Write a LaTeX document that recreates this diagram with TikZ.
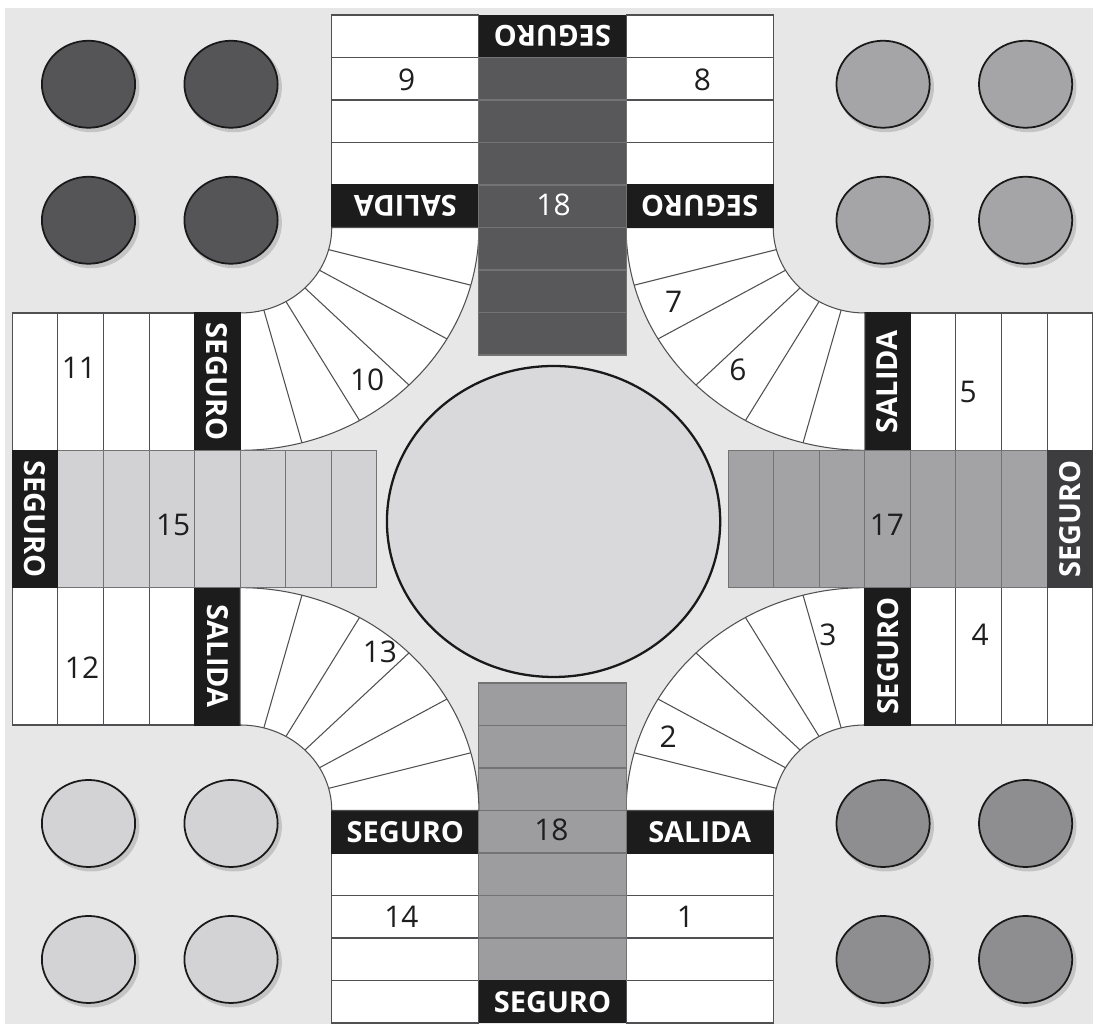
\documentclass[tikz,border=0pt]{standalone}
\usepackage{fontspec}
\setmainfont{Open Sans}

\definecolor{boardbg}{HTML}{E7E7E8}
\definecolor{barblack}{HTML}{1C1C1C}
\definecolor{bardark}{HTML}{3D3D3F}
\definecolor{lanetop}{HTML}{58585A}
\definecolor{laneright}{HTML}{A3A3A5}
\definecolor{lanebot}{HTML}{9D9D9F}
\definecolor{laneleft}{HTML}{D2D2D4}
\definecolor{tokdark}{HTML}{555557}
\definecolor{tokmid}{HTML}{A5A5A7}
\definecolor{toklight}{HTML}{D3D3D5}
\definecolor{tokdeep}{HTML}{8E8E90}
\definecolor{gridline}{HTML}{505052}
\definecolor{centrefill}{HTML}{D9D9DB}
\definecolor{numink}{HTML}{1E1E1E}

\tikzset{
  cell/.style={draw=gridline, line width=0.6pt, fill=white},
  lanecell/.style={draw=black!55, line width=0.6pt},
  bar/.style={draw=barblack, line width=0.6pt},
  bartext/.style={text=white, font=\fontsize{16.5}{16.5}\selectfont\bfseries, inner sep=0pt},
  num/.style={font=\fontsize{17}{17}\selectfont, inner sep=0pt},
  token/.style={draw=black!90, line width=1pt},
}

\begin{document}
\begin{tikzpicture}[x=0.02cm, y=0.02cm, xscale=1.0716]

    \useasboundingbox (-515.6,-505) rectangle (504.4,519);

    % Board background
    \fill[white] (-515.6,-505) rectangle (504.4,519);
    \fill[boardbg] (-510.9,-505) rectangle (504.4,511);

    % Arms: one arm and the fan to its right, turned four times
    \foreach \ang/\lane/\endbar in {0/lanebot/barblack, 90/laneright/bardark, 180/lanetop/barblack, 270/laneleft/barblack} {
      \begin{scope}[rotate=\ang]
        % side columns
        \foreach \i in {0,...,3} {
          \draw[cell] (-206,-504+42.5*\i) rectangle (-68.67,-461.5+42.5*\i);
          \draw[cell] (68.67,-504+42.5*\i) rectangle (206,-461.5+42.5*\i);
        }
        \fill[barblack, bar] (-206,-334) rectangle (-68.67,-291.5);
        \fill[barblack, bar] (68.67,-334) rectangle (206,-291.5);

        % fan between this arm and the next one
        \begin{scope}[shift={(291.5,-291.5)}]
          \draw[cell] (180:222.83) arc[start angle=180, end angle=90, radius=222.83]
            -- (90:85.5) arc[start angle=90, end angle=180, radius=85.5] -- cycle;
          \foreach \t in {105,120,...,165}
            \draw[gridline, line width=0.6pt] (\t:85.5) -- (\t:222.83);
        \end{scope}

        % home lane
        \foreach \i in {1,...,7}
          \draw[lanecell, fill=\lane] (-68.67,-504+42.5*\i) rectangle (68.67,-461.5+42.5*\i);
        \fill[\endbar] (-68.67,-504) rectangle (68.67,-461.5);

        % bar labels
        \node[bartext, rotate=\ang] (segend\ang) at (0,-482.75) {SEGURO};
        \node[bartext, rotate=\ang] (segside\ang) at (-137.33,-312.75) {SEGURO};
        \node[bartext, rotate=\ang] (sal\ang) at (137.33,-312.75) {SALIDA};
      \end{scope}
    }

    % Centre circle
    \draw[fill=centrefill, draw=black!90, line width=1.3pt] (1,-2.5) circle[radius=155.5];

    % Home tokens with a soft shadow
    \foreach \hx/\hy/\col in {-366.5/366.75/tokdark, 375/366.75/tokmid, -366.5/-372.5/toklight, 375/-372.5/tokdeep}
      \foreach \dx in {-66.5,66.5}
        \foreach \dy in {-68,68} {
          \fill[black, opacity=0.15] (\hx+\dx+2.5,\hy+\dy-3) circle[radius=45];
          \draw[token, fill=\col] (\hx+\dx,\hy+\dy) circle[radius=43.5];
        }

    % Square numbers
    \foreach \nx/\ny/\txt/\ink [count=\k] in {124/-398/1/numink, 108/-218/2/numink, 257/-116/3/numink, 399/-116/4/numink, 388/127/5/numink, 173/149/6/numink, 113/217/7/numink, 140/439/8/numink, -136/439/9/numink, -173/139/10/numink, -442/151/11/numink, -439/-149/12/numink, -161/-133/13/numink, -141/-398/14/numink, -354/-6/15/numink, 312/-6/17/numink, 1/314/18/white, -1/-311/18/numink}
      \node[num, text=\ink] (num\k) at (\nx,\ny) {\txt};

\end{tikzpicture}
\end{document}
